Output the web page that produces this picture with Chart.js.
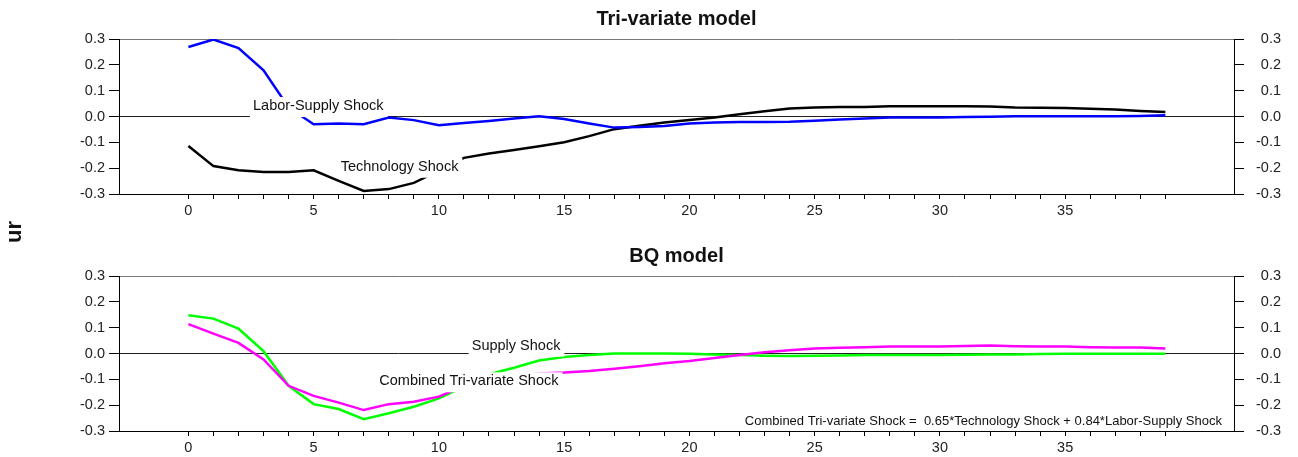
<!DOCTYPE html>
<html>
<head>
<meta charset="utf-8">
<script src="https://cdn.jsdelivr.net/npm/chart.js@4.4.1/dist/chart.umd.min.js"></script>
<style>
  html, body { margin: 0; padding: 0; background: #fff; overflow: hidden; }
  body { width: 1298px; height: 457px; position: relative; font-family: "Liberation Sans", Arial, sans-serif; }
  canvas { position: absolute; left: 0; }
  #top { top: 0; }
  #bottom { top: 237px; }
  #ylab { position: absolute; left: 14px; top: 232px; transform: translate(-50%, -50%) rotate(-90deg);
          font-weight: bold; font-size: 22px; color: #111; white-space: nowrap; }
</style>
</head>
<body>
<canvas id="top" width="1298" height="228"></canvas>
<canvas id="bottom" width="1298" height="228"></canvas>
<div id="ylab">ur</div>
<script>
// horizons (quarters after the shock)
const horizon = [0, 1, 2, 3, 4, 5, 6, 7, 8, 9, 10, 11, 12, 13, 14, 15, 16, 17, 18, 19,
                 20, 21, 22, 23, 24, 25, 26, 27, 28, 29, 30, 31, 32, 33, 34, 35, 36, 37, 38, 39];
const xTickLabels = [0, 5, 10, 15, 20, 25, 30, 35];
const yTicks = [-0.3, -0.2, -0.1, 0.0, 0.1, 0.2, 0.3];

// Tri-variate model
const laborSupply = [0.269, 0.298, 0.265, 0.179, 0.035, -0.030, -0.027, -0.030, -0.004, -0.014,
                     -0.034, -0.025, -0.017, -0.008, 0.001, -0.010, -0.027, -0.043, -0.041, -0.037,
                     -0.027, -0.023, -0.021, -0.021, -0.020, -0.016, -0.012, -0.008, -0.004, -0.004,
                     -0.004, -0.002, -0.001, 0.001, 0.001, 0.001, 0.001, 0.001, 0.002, 0.005];
const technology = [-0.114, -0.192, -0.208, -0.215, -0.215, -0.208, -0.249, -0.288, -0.281, -0.257,
                    -0.210, -0.160, -0.143, -0.130, -0.115, -0.100, -0.076, -0.049, -0.036, -0.023,
                    -0.014, -0.004, 0.009, 0.020, 0.031, 0.035, 0.037, 0.037, 0.040, 0.040,
                    0.040, 0.040, 0.039, 0.035, 0.034, 0.033, 0.030, 0.027, 0.021, 0.017];

// BQ model
const supplyBQ = [0.148, 0.135, 0.096, 0.009, -0.125, -0.196, -0.215, -0.254, -0.231, -0.206,
                  -0.174, -0.128, -0.080, -0.055, -0.027, -0.014, -0.006, 0.000, 0.000, 0.000,
                  -0.001, -0.004, -0.006, -0.009, -0.010, -0.009, -0.008, -0.006, -0.006, -0.006,
                  -0.006, -0.005, -0.004, -0.004, -0.002, -0.001, -0.001, -0.001, -0.001, -0.001];
const combined = [0.114, 0.077, 0.041, -0.023, -0.125, -0.164, -0.190, -0.219, -0.196, -0.187,
                  -0.167, -0.125, -0.105, -0.088, -0.077, -0.074, -0.068, -0.059, -0.049, -0.038,
                  -0.029, -0.017, -0.006, 0.005, 0.013, 0.019, 0.022, 0.024, 0.027, 0.027,
                  0.027, 0.029, 0.031, 0.028, 0.027, 0.027, 0.024, 0.023, 0.023, 0.019];

const FONT = '"Liberation Sans", Arial, sans-serif';
const X_MIN = -2.77, X_MAX = 41.74;

function pts(values) {
    return horizon.map(function (h, i) { return { x: h, y: values[i] }; });
}

function fmt(v) {
    if (Math.abs(v) < 1e-9) return '0.0';
    return Number(v).toFixed(1);
}

// title, in-plot series labels (white box behind them) and the footnote
const panelText = {
    id: 'panelText',
    afterDatasetsDraw: function (chart, args, opts) {
        const ctx = chart.ctx;
        const area = chart.chartArea;
        const xs = chart.scales.x, ys = chart.scales.y;
        ctx.save();
        ctx.fillStyle = '#111';
        ctx.textBaseline = 'alphabetic';
        ctx.textAlign = 'center';
        ctx.font = 'bold 20px ' + FONT;
        ctx.fillText(opts.title, (area.left + area.right) / 2, 25);

        ctx.font = '14.5px ' + FONT;
        ctx.textAlign = 'left';
        (opts.labels || []).forEach(function (lb) {
            const px = xs.getPixelForValue(lb.x);
            const py = ys.getPixelForValue(lb.y);
            const w = ctx.measureText(lb.text).width;
            ctx.fillStyle = '#fff';
            ctx.fillRect(px - 3, py - 13, w + 7, 20);
            ctx.fillStyle = '#111';
            ctx.fillText(lb.text, px, py);
        });

        if (opts.note) {
            ctx.font = '13px ' + FONT;
            ctx.textAlign = 'right';
            ctx.fillStyle = '#111';
            ctx.fillText(opts.note, area.right - 12, area.bottom - 6);
        }
        ctx.restore();
    }
};

function makeChart(id, opts, datasets) {
    const tickFont = { family: FONT, size: 14.5 };
    return new Chart(document.getElementById(id), {
        type: 'line',
        data: { datasets: datasets },
        options: {
            responsive: false,
            animation: false,
            devicePixelRatio: 1,
            layout: { padding: { top: 39, left: 0, right: 17, bottom: 0 } },
            elements: { point: { radius: 0 }, line: { tension: 0, borderWidth: 2.5 } },
            plugins: {
                legend: { display: false },
                tooltip: { enabled: false },
                title: { display: false },
                panelText: opts
            },
            scales: {
                x: {
                    type: 'linear', min: X_MIN, max: X_MAX,
                    afterBuildTicks: function (s) { s.ticks = horizon.map(function (v) { return { value: v }; }); },
                    afterFit: function (s) { s.height = 34; },
                    grid: { drawOnChartArea: false, tickLength: 5, tickColor: '#000' },
                    border: { color: '#000' },
                    ticks: {
                        autoSkip: false, maxRotation: 0, padding: 3, color: '#222', font: tickFont,
                        callback: function (v) { return xTickLabels.indexOf(v) >= 0 ? String(v) : ''; }
                    }
                },
                y: {
                    position: 'left', min: yTicks[0], max: yTicks[yTicks.length - 1],
                    afterBuildTicks: function (s) { s.ticks = yTicks.map(function (v) { return { value: v }; }); },
                    afterFit: function (s) { s.width = 119; },
                    grid: {
                        tickLength: 10, tickColor: '#000', lineWidth: 1,
                        color: function (c) {
                            if (!c.tick) return 'rgba(0,0,0,0)';
                            if (Math.abs(c.tick.value) < 1e-9) return '#222';
                            if (Math.abs(c.tick.value - 0.3) < 1e-9) return '#777';
                            return 'rgba(0,0,0,0)';
                        }
                    },
                    border: { color: '#000' },
                    ticks: { padding: 4, color: '#222', font: tickFont, callback: fmt }
                },
                y2: {
                    position: 'right', min: yTicks[0], max: yTicks[yTicks.length - 1],
                    afterBuildTicks: function (s) { s.ticks = yTicks.map(function (v) { return { value: v }; }); },
                    afterFit: function (s) { s.width = 47; },
                    grid: { drawOnChartArea: false, tickLength: 10, tickColor: '#000' },
                    border: { color: '#000' },
                    ticks: { padding: 12.5, crossAlign: 'far', color: '#222', font: tickFont, callback: fmt }
                }
            }
        },
        plugins: [panelText]
    });
}

makeChart('top', {
    title: 'Tri-variate model',
    labels: [
        { text: 'Labor-Supply Shock', x: 2.58, y: 0.025 },
        { text: 'Technology Shock', x: 6.08, y: -0.210 }
    ]
}, [
    { label: 'Labor-Supply Shock', data: pts(laborSupply), borderColor: '#0000ff' },
    { label: 'Technology Shock', data: pts(technology), borderColor: '#000000' }
]);

makeChart('bottom', {
    title: 'BQ model',
    labels: [
        { text: 'Supply Shock', x: 11.31, y: 0.015 },
        { text: 'Combined Tri-variate Shock', x: 7.62, y: -0.123 }
    ],
    note: 'Combined Tri-variate Shock =  0.65*Technology Shock + 0.84*Labor-Supply Shock'
}, [
    { label: 'Combined Tri-variate Shock', data: pts(combined), borderColor: '#ff00ff' },
    { label: 'Supply Shock', data: pts(supplyBQ), borderColor: '#00ff00' }
]);
</script>
</body>
</html>
